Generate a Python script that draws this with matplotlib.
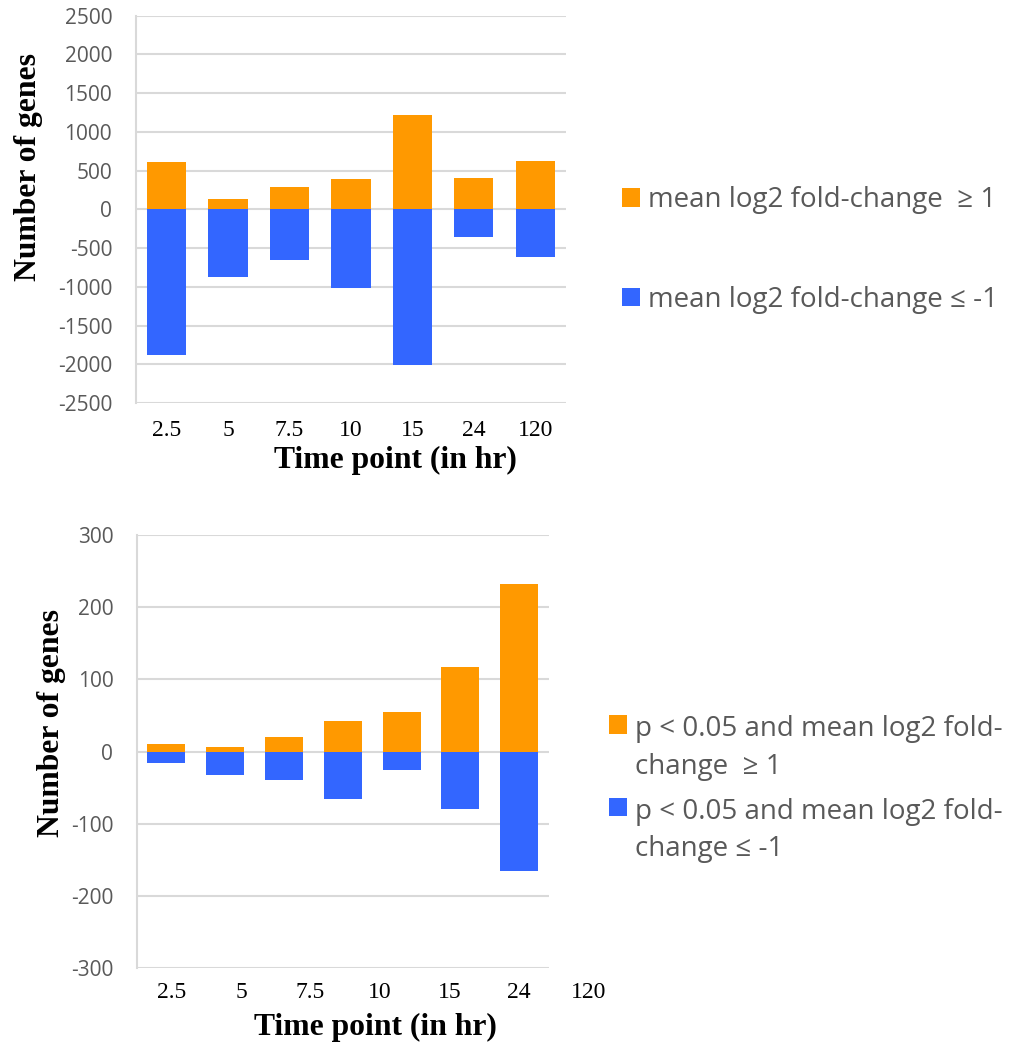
import matplotlib.pyplot as plt
import numpy as np

plt.rcParams['axes.unicode_minus'] = False

# data
time_points = ['2.5', '5', '7.5', '10', '15', '24', '120']

# all genes, |mean log2 FC| >= 1
up_all = [610, 135, 290, 395, 1215, 400, 630]
down_all = [-1880, -877, -660, -1015, -2015, -363, -613]

# p < 0.05 and |mean log2 FC| >= 1
up_sig = [10, 6, 20, 43, 55, 118, 233]
down_sig = [-16, -33, -40, -66, -25, -80, -165]

label_up_all = 'mean log2 fold-change  \u2265 1'
label_down_all = 'mean log2 fold-change \u2264 -1'
label_up_sig = 'p < 0.05 and mean log2 fold-\nchange  \u2265 1'
label_down_sig = 'p < 0.05 and mean log2 fold-\nchange \u2264 -1'

orange = '#FF9900'
blue = '#3366FF'
grid_c = '#D9D9D9'
text_c = '#595959'
sans = ['Open Sans', 'DejaVu Sans']
serif = 'Liberation Serif'

fig = plt.figure(figsize=(10.10, 10.61), dpi=100)
ax1 = fig.add_axes([0.1344, 0.6202, 0.426, 0.365])
ax2 = fig.add_axes([0.1356, 0.0877, 0.4077, 0.4078])

x = np.arange(len(time_points))


def style_axes(ax, ticks):
    ax.set_yticks(ticks)
    ax.set_ylim(ticks[0], ticks[-1])
    ax.set_xlim(-0.5, len(time_points) - 0.5)
    ax.grid(axis='y', color=grid_c, linewidth=1.5)
    ax.set_axisbelow(True)
    for s in ['top', 'right', 'bottom']:
        ax.spines[s].set_visible(False)
    ax.spines['left'].set_color(grid_c)
    ax.spines['left'].set_linewidth(1.5)
    ax.tick_params(length=0)
    ax.tick_params(axis='y', pad=17)
    for t in ax.get_yticklabels():
        t.set_family(sans)
        t.set_fontsize(15)
        t.set_color(text_c)


# top chart
ax1.bar(x, up_all, width=0.64, color=orange, label=label_up_all)
ax1.bar(x, down_all, width=0.64, color=blue, label=label_down_all)
style_axes(ax1, np.arange(-2500, 2501, 500))
ax1.set_xticks(x)
ax1.set_xticklabels(time_points, family=serif, fontsize=17)
ax1.tick_params(axis='x', pad=12)
ax1.set_xlabel('Time point (in hr)', family=serif, fontsize=22.8, fontweight='bold')
ax1.xaxis.set_label_coords(0.603, -0.112)
ax1.set_ylabel('Number of genes', family=serif, fontsize=22.8, fontweight='bold')
ax1.yaxis.set_label_coords(-0.215, 0.609)

# bottom chart
ax2.bar(x, up_sig, width=0.646, color=orange, label=label_up_sig)
ax2.bar(x, down_sig, width=0.646, color=blue, label=label_down_sig)
style_axes(ax2, np.arange(-300, 301, 100))
ax2.set_xticks([])
# the category labels in the source sit out of step with the bars
label_x = 0.09 + 1.18 * x
for lx, lab in zip(label_x, time_points):
    ax2.text(lx, -0.057, lab, transform=ax2.get_xaxis_transform(),
             ha='center', va='center', family=serif, fontsize=17, clip_on=False)
ax2.set_xlabel('Time point (in hr)', family=serif, fontsize=22.8, fontweight='bold')
ax2.xaxis.set_label_coords(0.579, -0.104)
ax2.set_ylabel('Number of genes', family=serif, fontsize=22.8, fontweight='bold')
ax2.yaxis.set_label_coords(-0.172, 0.566)

leg1 = ax1.legend(loc='center left', bbox_to_anchor=(1.13, 0.395), frameon=False,
                  prop={'family': sans, 'size': 20}, handlelength=0.65, handleheight=0.65,
                  handletextpad=0.29, labelspacing=2.56, borderaxespad=0, borderpad=0)
leg2 = ax2.legend(loc='center left', bbox_to_anchor=(1.146, 0.413), frameon=False,
                  prop={'family': sans, 'size': 20}, handlelength=0.65, handleheight=0.65,
                  handletextpad=0.29, labelspacing=0.61, borderaxespad=0, borderpad=0)
for leg in (leg1, leg2):
    for t in leg.get_texts():
        t.set_color(text_c)
for t in leg2.get_texts():
    t.set_linespacing(1.46)
# square sits next to the first line of each two-line entry
for col in leg2._legend_handle_box.get_children():
    for entry in col.get_children():
        entry.align = 'top'

fig.savefig('out.png', dpi=100, facecolor='white')
